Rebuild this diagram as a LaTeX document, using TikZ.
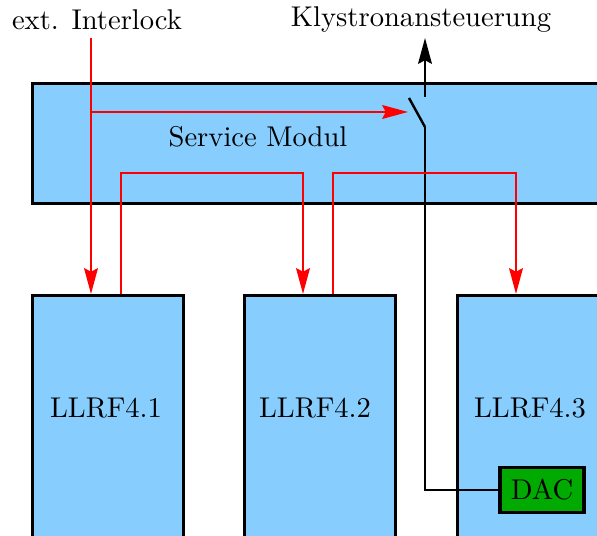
\documentclass[tikz,border=0pt]{standalone}
\usepackage{tikz}
\usetikzlibrary{arrows.meta,positioning}
\definecolor{modblue}{RGB}{135,206,255}
\definecolor{dacgreen}{RGB}{0,170,0}

\begin{document}
\begin{tikzpicture}[x=0.0123cm,y=-0.0123cm,>={Stealth[length=9pt,width=4.8pt,inset=1.2pt]},
    box/.style={draw,very thick,fill=modblue,inner sep=0pt},
    llrf/.style={box,anchor=north west,minimum width=1.857cm,minimum height=3.764cm},
    sig/.style={->,red,line width=0.85pt},
    wire/.style={line width=0.85pt}]

\clip (0,0) rectangle (597,536);

% modules
\node[box,anchor=north west,minimum width=7.614cm,minimum height=1.476cm] (SM) at (31,82) {};
\node (SM_l) at (258,137) {Service Modul};

\node[llrf] (L1) at (31,294) {};
\node[llrf] (L2) at (243,294) {};
\node[llrf,minimum width=2.46cm] (L3) at (456,294) {};
\node (L1_l) at (106,408) {LLRF4.1};
\node (L2_l) at (315,408) {LLRF4.2};
\node (L3_l) at (530,408) {LLRF4.3};

\node[draw,very thick,fill=dacgreen,minimum width=1.033cm,minimum height=0.554cm,inner sep=0pt] (DAC) at (542,490) {DAC};

% outside signals
\node (ilock) at (97,20) {ext. Interlock};
\node (klys) at (421,20) {Klystronansteuerung};

% switch
\coordinate (il) at (91,38);
\coordinate (sw_in) at (408,112);
\coordinate (sw_tip) at (409,98);
\coordinate (sw_top) at (425,97);
\coordinate (sw_bot) at (425,127);
\coordinate (kl) at (425,38);

\draw[wire] (sw_tip) -- (sw_bot);
\draw[wire,->] (sw_top) -- (kl);
\draw[wire] (sw_bot) |- (DAC.west);

% interlock chain
\draw[sig] (il) -- (il |- L1.north);
\draw[sig] (il |- sw_in) -- (sw_in);
\draw[sig] (121,0 |- L1.north) |- (303,173) -- (303,0 |- L2.north);
\draw[sig] (333,0 |- L2.north) |- (516,173) -- (516,0 |- L3.north);

\end{tikzpicture}
\end{document}
